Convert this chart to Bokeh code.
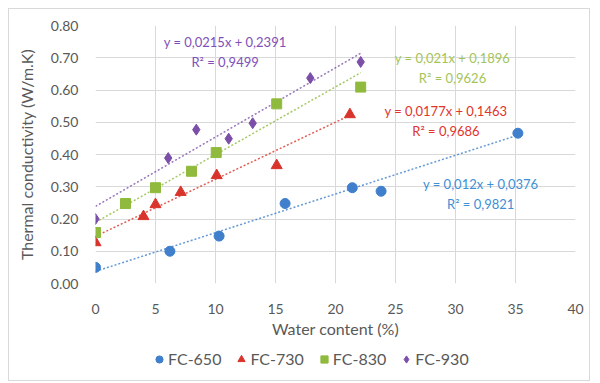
from bokeh.plotting import figure
from bokeh.layouts import column
from bokeh.models import Range1d, FixedTicker, Legend, LegendItem, Label, NumeralTickFormatter
from bokeh.embed import file_html
from bokeh.resources import INLINE

# ---- data ----
x650 = [0, 6.2, 10.3, 15.8, 21.4, 23.8, 35.2]
y650 = [0.05, 0.10, 0.147, 0.248, 0.297, 0.286, 0.466]
x730 = [0, 4.0, 5.0, 7.1, 10.1, 15.1, 21.2]
y730 = [0.127, 0.208, 0.245, 0.283, 0.335, 0.366, 0.524]
x830 = [0, 2.5, 5.0, 8.0, 10.06, 15.1, 22.1]
y830 = [0.158, 0.248, 0.297, 0.348, 0.406, 0.557, 0.609]
x930 = [0, 6.06, 8.4, 11.1, 13.1, 17.9, 22.1]
y930 = [0.20, 0.389, 0.477, 0.449, 0.497, 0.637, 0.687]

series_names = ["FC-650", "FC-730", "FC-830", "FC-930"]
slopes = [0.012, 0.0177, 0.021, 0.0215]
intercepts = [0.0376, 0.1463, 0.1896, 0.2391]
eq_texts = ["y = 0,012x + 0,0376", "y = 0,0177x + 0,1463", "y = 0,021x + 0,1896", "y = 0,0215x + 0,2391"]
r2_texts = ["R² = 0,9821", "R² = 0,9686", "R² = 0,9626", "R² = 0,9499"]
x_ticks = [0, 5, 10, 15, 20, 25, 30, 35, 40]
y_ticks = [0.0, 0.1, 0.2, 0.3, 0.4, 0.5, 0.6, 0.7, 0.8]

FONT = "Lato"
colors = ["#3f7fcc", "#d9342b", "#8fba3d", "#7b4fa8"]
text_colors = ["#3d8fd6", "#e0342c", "#a4c45a", "#8050b8"]
markers = ["circle", "triangle", "square", "diamond"]
sizes = [10, 11, 10, 11]

p = figure(width=580, height=335, output_backend="svg", toolbar_location=None,
           x_range=Range1d(0, 40), y_range=Range1d(0, 0.8),
           min_border_left=86, min_border_right=14, min_border_top=16, min_border_bottom=61)
p.outline_line_color = None
p.background_fill_color = "white"

for ax in (p.xaxis[0], p.yaxis[0]):
    ax.axis_line_color = None
    ax.major_tick_line_color = None
    ax.minor_tick_line_color = None
    ax.major_label_text_font = FONT
    ax.major_label_text_font_size = "14px"
    ax.major_label_text_color = "#595959"
    ax.axis_label_text_font = FONT
    ax.axis_label_text_font_style = "normal"
    ax.axis_label_text_font_size = "16px"
    ax.axis_label_text_color = "#595959"

p.xaxis.ticker = FixedTicker(ticks=x_ticks)
p.yaxis.ticker = FixedTicker(ticks=y_ticks)
p.yaxis.formatter = NumeralTickFormatter(format="0.00")
p.xaxis.major_label_standoff = 14
p.yaxis.major_label_standoff = 11
p.xaxis.axis_label = "Water content (%)"
p.yaxis.axis_label = "Thermal conductivity (W/m.K)"
p.xaxis.axis_label_standoff = 2
p.yaxis.axis_label_standoff = 12
p.grid.grid_line_color = "#d9d9d9"

xs = [x650, x730, x830, x930]
ys = [y650, y730, y830, y930]

# trendlines
for i in range(4):
    x0, x1 = min(xs[i]), max(xs[i])
    p.line([x0, x1], [slopes[i] * x0 + intercepts[i], slopes[i] * x1 + intercepts[i]],
           line_color=colors[i], line_width=1.5, line_dash="2 2", line_alpha=0.8)

for i in range(4):
    p.scatter(xs[i], ys[i], marker=markers[i], size=sizes[i], color=colors[i])

# equation labels (data coordinates)
eq_pos = [(32.1, 0.31), (29.2, 0.536), (29.75, 0.70), (10.8, 0.75)]
for i in range(4):
    ex, ey = eq_pos[i]
    p.add_layout(Label(x=ex, y=ey, text=eq_texts[i], text_align="center", text_baseline="middle",
                       text_font=FONT, text_font_size="13px", text_color=text_colors[i]))
    p.add_layout(Label(x=ex, y=ey - 0.062, text=r2_texts[i], text_align="center", text_baseline="middle",
                       text_font=FONT, text_font_size="13px", text_color=text_colors[i]))

# legend strip below the chart (renderers hold one point kept outside the visible range)
lf = figure(width=580, height=36, output_backend="svg", toolbar_location=None,
            x_range=Range1d(0, 1), y_range=Range1d(0, 1),
            x_axis_type=None, y_axis_type=None, min_border=0)
lf.outline_line_color = None
lf.grid.visible = False
lr = [lf.scatter([-5], [-5], marker=markers[i], size=sizes[i], color=colors[i]) for i in range(4)]
legend = Legend(items=[LegendItem(label=series_names[i], renderers=[lr[i]]) for i in range(4)],
                orientation="horizontal", location=(55, 12),
                label_text_font=FONT, label_text_font_size="16px", label_text_color="#595959",
                border_line_color=None, background_fill_alpha=0,
                glyph_width=18, glyph_height=18, label_standoff=0, spacing=11,
                padding=5, margin=0)
lf.add_layout(legend, "center")

layout = column(p, lf, spacing=0)
layout.styles = {"border": "1px solid #d9d9d9", "margin-left": "8px", "margin-top": "8px",
                 "background-color": "white"}

open("out.html", "w").write(file_html(layout, INLINE))
